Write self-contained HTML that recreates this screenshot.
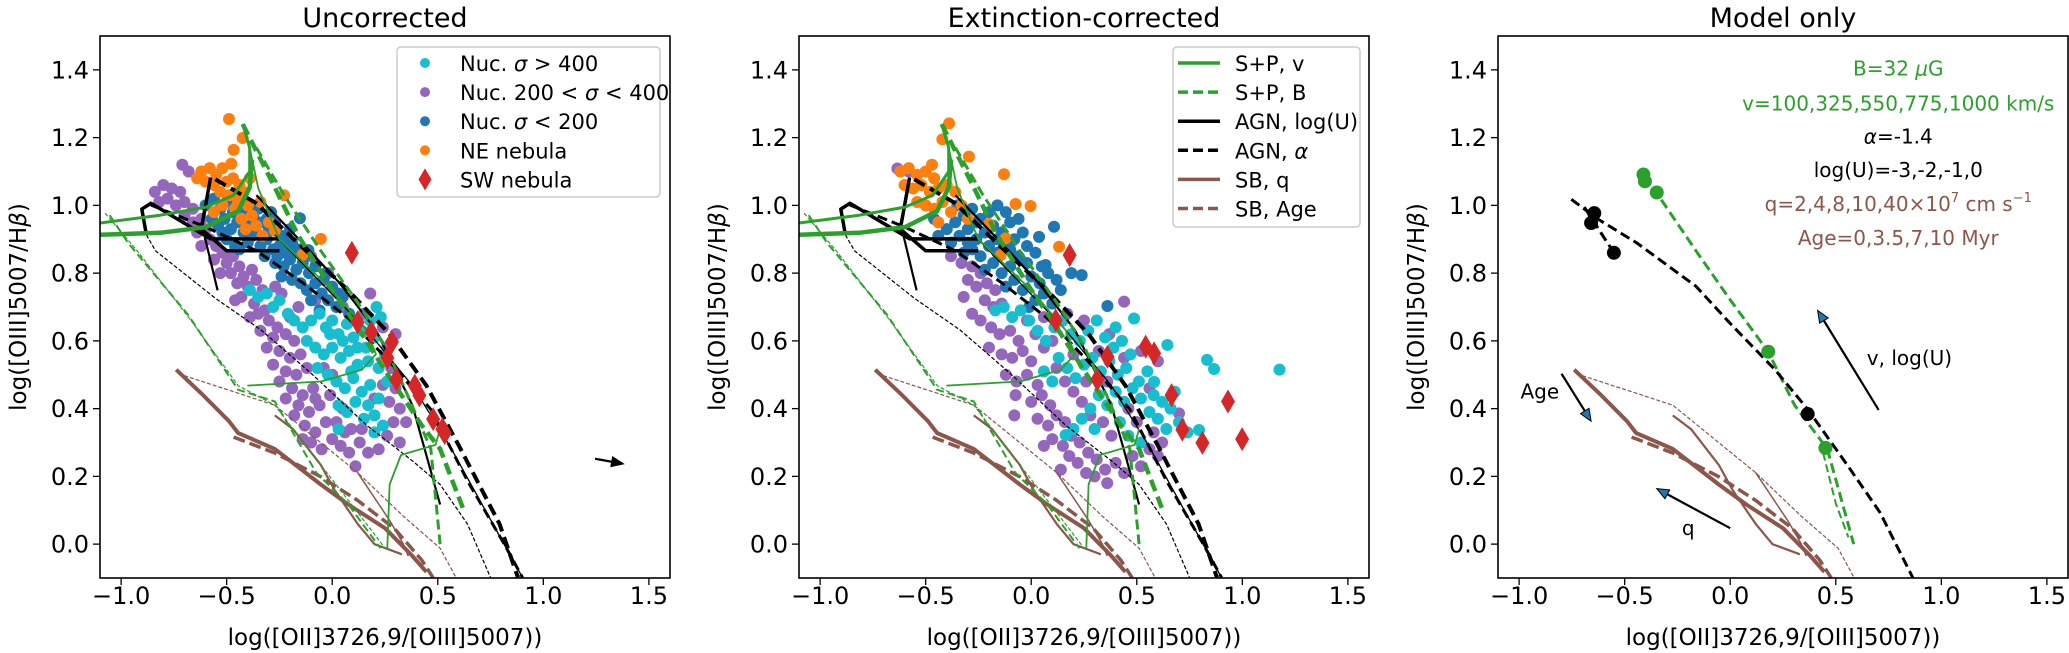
<!DOCTYPE html>
<html><head><meta charset="utf-8"><style>
html,body{margin:0;padding:0;background:#fff;}
svg{display:block;font-family:"DejaVu Sans","Liberation Sans",sans-serif;}
</style></head><body>
<svg id="fig" xmlns="http://www.w3.org/2000/svg" width="2069" height="653" viewBox="0 0 2069 653"></svg>
<script>
// ---- observational data (x = log([OII]/[OIII]), y = log([OIII]/Hb)) ----
const orange1=[[-0.489,1.255],[-0.467,1.164],[-0.424,1.199],[-0.478,1.123],[-0.62,1.10],[-0.58,1.11],[-0.55,1.09],[-0.52,1.11],[-0.60,1.07],[-0.56,1.06],[-0.50,1.07],[-0.47,1.08],[-0.44,1.06],[-0.53,1.04],[-0.49,1.03],[-0.45,1.02],[-0.42,1.04],[-0.40,1.00],[-0.46,0.99],[-0.52,1.00],[-0.43,0.96],[-0.38,0.97],[-0.36,0.94],[-0.41,0.93],[-0.34,1.01],[-0.30,0.95],[-0.272,0.925],[-0.228,1.030],[-0.141,0.854],[-0.054,0.901],[-0.64,1.08],[-0.56,0.98],[-0.33,0.91],[-0.39,1.08]];
const blue1=[[-0.60,1.00],[-0.56,1.02],[-0.53,0.99],[-0.50,1.01],[-0.47,0.98],[-0.44,1.00],[-0.41,0.99],[-0.38,0.98],[-0.35,0.99],[-0.57,0.96],[-0.54,0.94],[-0.51,0.96],[-0.48,0.93],[-0.45,0.95],[-0.42,0.92],[-0.39,0.94],[-0.36,0.92],[-0.33,0.95],[-0.30,0.93],[-0.27,0.95],[-0.24,0.91],[-0.50,0.90],[-0.46,0.88],[-0.40,0.89],[-0.34,0.88],[-0.31,0.90],[-0.28,0.87],[-0.25,0.88],[-0.22,0.86],[-0.19,0.89],[-0.16,0.87],[-0.153,0.962],[-0.20,0.93],[-0.113,0.868],[-0.27,0.83],[-0.23,0.82],[-0.20,0.84],[-0.17,0.81],[-0.14,0.83],[-0.11,0.80],[-0.08,0.82],[-0.19,0.78],[-0.15,0.77],[-0.12,0.75],[-0.08,0.77],[-0.05,0.74],[-0.02,0.72],[0.02,0.70],[0.05,0.73],[0.08,0.68],[-0.10,0.72],[-0.04,0.78],[-0.32,0.85],[-0.44,0.87],[-0.37,0.96],[-0.29,0.98],[0.0,0.76],[-0.06,0.69],[-0.52,0.92],[-0.24,0.79],[-0.43,0.97],[-0.31,0.96],[-0.21,0.90],[-0.13,0.85],[-0.18,0.86],[-0.03,0.80],[0.03,0.74],[-0.38,0.91],[-0.26,0.85]];
const cyan1=[[-0.39,0.75],[-0.35,0.73],[-0.31,0.74],[-0.28,0.70],[-0.25,0.72],[-0.21,0.68],[-0.18,0.66],[-0.14,0.64],[-0.10,0.66],[-0.06,0.68],[-0.03,0.64],[0.00,0.66],[0.03,0.62],[0.07,0.65],[0.10,0.61],[0.14,0.63],[0.18,0.66],[0.21,0.70],[0.23,0.67],[0.20,0.61],[0.16,0.58],[-0.12,0.60],[-0.08,0.58],[-0.04,0.56],[0.00,0.58],[0.04,0.55],[0.08,0.57],[0.12,0.53],[0.17,0.54],[0.22,0.52],[0.25,0.56],[-0.02,0.50],[0.02,0.48],[0.06,0.46],[0.10,0.49],[0.14,0.45],[0.18,0.47],[0.22,0.43],[0.03,0.41],[0.07,0.39],[0.11,0.42],[0.15,0.37],[0.20,0.38],[0.24,0.35],[0.03,0.34],[0.20,0.33],[0.26,0.48],[-0.07,0.52],[0.05,0.60],[0.12,0.58],[0.09,0.51],[0.17,0.41],[-0.01,0.62]];
const purple1=[[-0.71,1.12],[-0.68,1.10],[-0.84,1.04],[-0.80,1.06],[-0.76,1.05],[-0.72,1.04],[-0.78,1.02],[-0.74,1.00],[-0.70,1.01],[-0.66,0.99],[-0.82,1.01],[-0.70,0.97],[-0.66,0.95],[-0.62,0.96],[-0.64,0.92],[-0.60,0.93],[-0.58,0.90],[-0.55,0.88],[-0.52,0.86],[-0.56,0.84],[-0.50,0.83],[-0.47,0.85],[-0.44,0.82],[-0.48,0.80],[-0.42,0.79],[-0.38,0.81],[-0.45,0.77],[-0.40,0.76],[-0.36,0.78],[-0.33,0.75],[-0.43,0.73],[-0.37,0.71],[-0.32,0.69],[-0.27,0.76],[-0.24,0.74],[-0.30,0.66],[-0.26,0.64],[-0.34,0.63],[-0.28,0.61],[-0.22,0.62],[-0.18,0.60],[-0.31,0.58],[-0.25,0.57],[-0.20,0.55],[-0.15,0.56],[-0.28,0.53],[-0.22,0.51],[-0.17,0.50],[-0.12,0.52],[-0.25,0.48],[-0.19,0.46],[-0.14,0.44],[-0.09,0.46],[-0.22,0.43],[-0.16,0.41],[-0.11,0.39],[-0.06,0.41],[-0.13,0.35],[-0.08,0.33],[-0.03,0.36],[-0.10,0.30],[-0.05,0.28],[0.00,0.31],[0.04,0.29],[0.08,0.27],[0.13,0.30],[0.17,0.27],[0.22,0.28],[0.11,0.23],[0.26,0.32],[0.29,0.36],[0.27,0.42],[0.24,0.47],[0.28,0.52],[0.26,0.58],[0.30,0.62],[0.24,0.64],[0.15,0.68],[0.05,0.70],[0.18,0.74],[-0.02,0.80],[-0.10,0.85],[-0.08,0.43],[-0.01,0.44],[0.05,0.40],[-0.04,0.52],[0.02,0.36],[0.09,0.34],[0.20,0.43],[0.30,0.46],[0.35,0.36],[-0.62,0.88],[-0.53,0.80],[-0.46,0.72],[-0.39,0.67],[-0.35,0.68],[-0.20,0.67],[-0.16,0.70],[-0.08,0.72],[0.00,0.50],[-0.18,0.38],[-0.14,0.31],[0.06,0.33],[0.14,0.34],[0.32,0.40],[0.32,0.30]];
const red1=[[0.093,0.860],[0.120,0.655],[0.185,0.626],[0.283,0.597],[0.261,0.550],[0.304,0.486],[0.391,0.468],[0.413,0.439],[0.478,0.369],[0.522,0.339],[0.533,0.328]];

const orange2=[[-0.389,1.242],[-0.421,1.195],[-0.295,1.144],[-0.129,1.092],[-0.074,1.004],[-0.003,0.998],[0.132,0.878],[-0.200,0.945],[-0.121,0.903],[-0.145,0.853],[-0.62,1.10],[-0.58,1.11],[-0.54,1.09],[-0.50,1.10],[-0.46,1.08],[-0.60,1.06],[-0.56,1.05],[-0.52,1.06],[-0.48,1.04],[-0.44,1.05],[-0.40,1.06],[-0.36,1.04],[-0.50,1.00],[-0.46,0.99],[-0.42,1.01],[-0.38,0.98],[-0.33,1.00],[-0.30,0.96],[-0.44,0.95],[-0.54,1.01],[-0.47,1.12]];
const blue2=[[-0.44,0.91],[-0.40,0.93],[-0.36,0.95],[-0.32,0.97],[-0.28,0.99],[-0.24,0.96],[-0.20,0.98],[-0.16,1.00],[-0.12,0.98],[-0.38,0.89],[-0.34,0.91],[-0.30,0.93],[-0.26,0.90],[-0.22,0.92],[-0.18,0.94],[-0.14,0.92],[-0.10,0.95],[-0.06,0.96],[-0.32,0.86],[-0.28,0.87],[-0.24,0.85],[-0.20,0.88],[-0.16,0.86],[-0.12,0.88],[-0.08,0.90],[-0.04,0.92],[-0.22,0.81],[-0.18,0.83],[-0.14,0.80],[-0.10,0.82],[-0.06,0.85],[-0.02,0.83],[0.02,0.86],[-0.12,0.76],[-0.08,0.78],[-0.04,0.75],[0.00,0.79],[0.04,0.77],[0.08,0.80],[0.12,0.78],[0.02,0.72],[0.06,0.74],[0.10,0.71],[0.14,0.75],[0.108,0.937],[0.239,0.794],[0.361,0.703],[0.037,0.907],[0.068,0.824],[-0.46,0.96],[-0.35,1.00],[0.19,0.80],[-0.26,0.95],[-0.01,0.70],[-0.30,0.89],[-0.16,0.90],[-0.02,0.88],[0.05,0.82],[-0.10,0.87]];
const cyan2=[[-0.17,0.69],[-0.13,0.70],[-0.09,0.67],[-0.05,0.69],[-0.01,0.66],[0.03,0.63],[0.07,0.60],[0.11,0.64],[0.15,0.66],[0.19,0.62],[0.23,0.60],[0.27,0.63],[0.31,0.66],[0.35,0.61],[0.39,0.58],[0.43,0.60],[0.47,0.56],[0.487,0.666],[0.645,0.588],[0.582,0.479],[0.163,0.322],[0.795,0.337],[0.833,0.544],[0.866,0.517],[1.176,0.515],[0.13,0.55],[0.17,0.52],[0.21,0.49],[0.25,0.53],[0.29,0.55],[0.33,0.51],[0.37,0.54],[0.41,0.50],[0.45,0.52],[0.51,0.48],[0.55,0.51],[0.58,0.44],[0.62,0.42],[0.66,0.40],[0.60,0.37],[0.64,0.34],[0.56,0.39],[0.52,0.43],[0.48,0.46],[0.44,0.42],[0.40,0.45],[0.36,0.41],[0.32,0.44],[0.28,0.40],[0.24,0.37],[0.20,0.34],[0.30,0.34],[0.42,0.36],[0.10,0.48],[0.06,0.51],[0.70,0.36],[0.74,0.33],[0.52,0.30],[0.46,0.32],[0.54,0.58],[0.40,0.64],[0.68,0.45]];
const purple2=[[-0.634,1.109],[-0.58,1.10],[-0.38,0.85],[-0.33,0.83],[-0.28,0.82],[-0.24,0.80],[-0.30,0.78],[-0.26,0.76],[-0.21,0.77],[-0.17,0.75],[-0.22,0.72],[-0.18,0.70],[-0.14,0.71],[-0.28,0.68],[-0.24,0.66],[-0.19,0.64],[-0.15,0.62],[-0.10,0.63],[-0.06,0.60],[-0.20,0.58],[-0.14,0.56],[-0.09,0.55],[-0.04,0.57],[0.00,0.54],[-0.12,0.50],[-0.07,0.48],[-0.02,0.50],[0.03,0.47],[-0.074,0.44],[0.00,0.42],[0.05,0.44],[0.09,0.41],[0.03,0.37],[0.08,0.35],[0.12,0.38],[0.16,0.36],[0.10,0.31],[0.15,0.29],[0.19,0.32],[0.23,0.30],[0.18,0.26],[0.22,0.24],[0.27,0.27],[0.31,0.25],[0.26,0.21],[0.35,0.22],[0.40,0.24],[0.44,0.21],[0.48,0.26],[0.52,0.23],[0.56,0.28],[0.60,0.26],[0.44,0.716],[0.70,0.386],[0.62,0.30],[0.58,0.33],[0.50,0.36],[0.46,0.40],[0.38,0.32],[0.34,0.36],[0.28,0.38],[0.24,0.42],[0.20,0.45],[0.16,0.48],[0.12,0.52],[0.32,0.57],[0.37,0.62],[0.44,0.55],[0.52,0.57],[0.60,0.54],[0.56,0.46],[0.06,0.58],[0.10,0.60],[0.02,0.62],[-0.02,0.66],[0.06,0.67],[0.25,0.66],[0.17,0.68],[-0.32,0.73],[0.14,0.22],[0.36,0.18],[-0.08,0.38],[0.20,0.56],[0.26,0.48],[0.36,0.48],[0.06,0.29],[0.30,0.20]];
const red2=[[0.182,0.853],[0.116,0.661],[0.361,0.553],[0.313,0.486],[0.542,0.583],[0.582,0.563],[0.665,0.440],[0.716,0.338],[0.811,0.299],[0.932,0.421],[0.999,0.310]];

// ---- model grids ----
const spvA=[[-1.10,0.948],[-0.815,0.971],[-0.598,0.995],[-0.467,1.030],[-0.391,1.100],[-0.391,1.170],[-0.424,1.240]];
const spvB=[[-1.10,0.913],[-0.815,0.919],[-0.598,0.936],[-0.446,0.983],[-0.391,1.053],[-0.380,1.135]];
const spvC=[[-0.391,1.170],[-0.35,1.05],[-0.25,0.90],[0.00,0.75],[0.163,0.632],[0.207,0.561],[0.141,0.515],[-0.054,0.480],[-0.402,0.468]];
const spvD=[[0.511,0.339],[0.489,0.293],[0.326,0.263],[0.272,0.176],[0.261,-0.012]];
const spB1=[[-0.424,1.240],[-0.272,1.053],[-0.163,0.913],[-0.011,0.761],[0.141,0.620],[0.272,0.492],[0.424,0.351],[0.511,0.281],[0.576,0.176],[0.620,0.105]];
const spB2=[[-0.359,1.170],[-0.228,1.030],[-0.054,0.866],[0.120,0.714],[0.250,0.585],[0.337,0.468],[0.467,0.281],[0.511,0.0]];
const spB3=[[-1.076,0.977],[-0.924,0.866],[-0.663,0.655],[-0.446,0.468],[-0.272,0.410],[-0.054,0.234],[0.120,0.094],[0.250,-0.012]];
const spB4=[[-1.054,0.971],[-0.967,0.889],[-0.685,0.679],[-0.446,0.456],[-0.272,0.421],[-0.076,0.211],[0.076,0.117],[0.228,-0.012]];
const agnU1=[[-0.880,0.913],[-0.902,0.989],[-0.859,1.006],[-0.576,0.901],[-0.250,0.901]];
const agnU2=[[-0.576,1.082],[-0.62,0.93],[-0.50,0.866],[-0.250,0.866]];
const agnU3=[[-0.62,0.95],[-0.543,0.749]];
const agnU4=[[-0.359,1.030],[-0.141,0.889],[0.033,0.772],[0.207,0.632],[0.380,0.410],[0.511,0.117]];
const agnU5=[[-0.272,0.913],[-0.054,0.772],[0.163,0.632],[0.380,0.468],[0.554,0.293],[0.902,-0.099]];
const agnA1=[[-0.859,1.001],[-0.598,0.936],[-0.359,0.866],[-0.141,0.772],[0.076,0.667],[0.272,0.538],[0.467,0.398],[0.641,0.187],[0.815,0.0],[0.902,-0.099]];
const agnA2=[[-0.554,1.077],[-0.359,1.006],[-0.163,0.889],[0.076,0.749],[0.272,0.620],[0.446,0.468],[0.598,0.293],[0.793,0.059],[0.880,-0.099]];
const agnA3=[[-0.880,0.913],[-0.837,0.866],[-0.554,0.726],[-0.337,0.632],[-0.098,0.503],[0.163,0.351],[0.380,0.246],[0.511,0.176],[0.641,0.059],[0.750,-0.099]];
const sbq1=[[-0.739,0.515],[-0.620,0.445],[-0.489,0.363],[-0.446,0.328],[-0.272,0.281],[-0.054,0.176],[0.076,0.117],[0.250,0.047],[0.380,-0.035],[0.446,-0.082]];
const sbq2=[[-0.272,0.380],[-0.185,0.339],[-0.054,0.234],[0.011,0.160],[0.120,0.060],[0.20,0.0],[0.33,-0.03]];
const sbq3=[[0.120,0.211],[0.272,0.070],[0.337,0.0],[0.36,-0.035]];
const sbA1=[[-0.467,0.316],[-0.272,0.269],[-0.054,0.199],[0.120,0.129],[0.293,0.047],[0.424,-0.047],[0.478,-0.099]];
const sbA2=[[-0.728,0.503],[-0.272,0.410],[0.120,0.211],[0.337,0.082],[0.511,-0.012],[0.587,-0.099]];
// panel 3 model
const m3agn=[[-0.753,1.018],[-0.628,0.960],[-0.442,0.889],[-0.162,0.761],[-0.006,0.655],[0.212,0.515],[0.367,0.398],[0.554,0.234],[0.709,0.094],[0.865,-0.099]];
const m3agnB=[[-0.691,0.995],[-0.551,0.860]];
const m3agnDots=[[-0.644,0.977],[-0.659,0.948],[-0.551,0.860],[0.367,0.384]];
const m3sp=[[-0.411,1.088],[-0.348,1.036],[-0.162,0.866],[-0.006,0.726],[0.180,0.568],[0.305,0.410],[0.460,0.281],[0.585,0.0]];
const m3sp2=[[0.44,0.27],[0.50,0.12],[0.56,0.02]];
const m3spDots=[[-0.411,1.091],[-0.404,1.071],[-0.348,1.038],[0.180,0.568],[0.451,0.284]];
const arrow1=[[1.245,0.252],[1.38,0.237]];
const arrowAge=[[-0.799,0.503],[-0.659,0.363]];
const arrowV=[[0.703,0.396],[0.414,0.690]];
const arrowQ=[[0.0,0.047],[-0.348,0.164]];
const xTicks=[-1.0,-0.5,0.0,0.5,1.0,1.5];
const yTicks=[0.0,0.2,0.4,0.6,0.8,1.0,1.2,1.4];
const titles=["Uncorrected","Extinction-corrected","Model only"];

// ---- layout ----
const NS="http://www.w3.org/2000/svg";
const svg=document.getElementById('fig');
const LS=[100,799,1498], PW=570, PH=542, TOP=36;
const X0=-1.1,X1=1.6,Y0=-0.1,Y1=1.5;
function sx(p,x){return LS[p]+(x-X0)/(X1-X0)*PW;}
function sy(y){return TOP+(Y1-y)/(Y1-Y0)*PH;}
function mk(tag,attrs,parent){const e=document.createElementNS(NS,tag);for(const k in attrs)e.setAttribute(k,attrs[k]);(parent||svg).appendChild(e);return e;}
const C={cyan:'#17becf',purple:'#9467bd',blue:'#1f77b4',orange:'#ff7f0e',red:'#d62728',green:'#2ca02c',brown:'#8c564b'};

const defs=mk('defs',{});
for(let p=0;p<3;p++){const cp=mk('clipPath',{id:'clip'+p},defs);mk('rect',{x:LS[p],y:TOP,width:PW,height:PH},cp);}

function dots(p,g,arr,color,r,name){
  for(const d of arr){
    const c=mk('circle',{cx:sx(p,d[0]),cy:sy(d[1]),r:r,fill:color},g);
    
    
  }
}
function diamonds(p,g,arr,name){
  for(const d of arr){
    const x=sx(p,d[0]),y=sy(d[1]);
    const e=mk('polygon',{points:`${x},${y-12} ${x+7},${y} ${x},${y+12} ${x-7},${y}`,fill:C.red},g);
    
    
  }
}
function line(p,g,arr,color,w,dash,name){
  const pts=arr.map(d=>sx(p,d[0]).toFixed(1)+','+sy(d[1]).toFixed(1)).join(' ');
  const attrs={points:pts,fill:'none',stroke:color,'stroke-width':w,'stroke-linejoin':'round'};
  if(dash)attrs['stroke-dasharray']=dash;
  const e=mk('polyline',attrs,g);
  
  
}
function arrow(p,g,arr,head,name){
  const x1=sx(p,arr[0][0]),y1=sy(arr[0][1]),x2=sx(p,arr[1][0]),y2=sy(arr[1][1]);
  const a=Math.atan2(y2-y1,x2-x1),L=12,W=5;
  const bx=x2-L*Math.cos(a),by=y2-L*Math.sin(a);
  const ln=mk('line',{x1:x1,y1:y1,x2:bx,y2:by,stroke:'#000','stroke-width':2.2},g);
  
  
  const pts=`${x2},${y2} ${bx-W*Math.sin(a)},${by+W*Math.cos(a)} ${bx+W*Math.sin(a)},${by-W*Math.cos(a)}`;
  const hd=mk('polygon',{points:pts,fill:head,stroke:'#000','stroke-width':1},g);
  
  
}
function sharedModels(p,g){
  line(p,g,spB3,C.green,1.2,'4 2','sp-b-thin-line');
  line(p,g,spB4,C.green,2,'8 4','sp-b-mid-line');
  line(p,g,agnA3,'#000',1.2,'4 2','agn-alpha-thin-line');
  line(p,g,agnU5,'#000',1.3,null,'agn-logu-thin-line');
  line(p,g,agnU4,'#000',2.2,null,'agn-logu-mid-line');
  line(p,g,agnU3,'#000',2.2,null,'agn-logu-branch-line');
  line(p,g,agnU1,'#000',3.5,null,'agn-logu-thick-line');
  line(p,g,agnU2,'#000',3.5,null,'agn-logu-thick-line-2');
  line(p,g,agnA1,'#000',3,'10 5','agn-alpha-line');
  line(p,g,agnA2,'#000',4,'12 6','agn-alpha-thick-line');
  line(p,g,spvC,C.green,1.8,null,'sp-v-thin-line');
  line(p,g,spvD,C.green,1.8,null,'sp-v-thin-line-2');
  line(p,g,spB2,C.green,3,'10 5','sp-b-line');
  line(p,g,spB1,C.green,4.5,'12 6','sp-b-thick-line');
  line(p,g,spvB,C.green,4.5,null,'sp-v-thick-line');
  line(p,g,spvA,C.green,3,null,'sp-v-line');
}
function brownModels(p,g){
  line(p,g,sbA2,C.brown,1.2,'4 2','sb-age-thin-line');
  line(p,g,sbq3,C.brown,1.5,null,'sb-q-thin-line-2');
  line(p,g,sbq2,C.brown,2.2,null,'sb-q-mid-line');
  line(p,g,sbA1,C.brown,3.5,'12 5','sb-age-thick-line');
  line(p,g,sbq1,C.brown,4,null,'sb-q-thick-line');
}

function axes(p){
  const g=mk('g',{});
  
  
  const t=mk('text',{x:LS[p]+PW/2,y:27,'text-anchor':'middle','font-size':27},g);
  t.textContent=titles[p];
  
  
  for(const v of xTicks){
    const x=sx(p,v);
    const tk=mk('line',{x1:x,y1:TOP+PH,x2:x,y2:TOP+PH+7,stroke:'#000','stroke-width':1.3},g);
    
    
    const tl=mk('text',{x:x,y:604,'text-anchor':'middle','font-size':24},g);
    tl.textContent=(v<0?'\u2212':'')+Math.abs(v).toFixed(1);
    
    
  }
  for(const v of yTicks){
    const y=sy(v);
    const tk=mk('line',{x1:LS[p]-7,y1:y,x2:LS[p],y2:y,stroke:'#000','stroke-width':1.3},g);
    
    
    const tl=mk('text',{x:LS[p]-11,y:y+8.5,'text-anchor':'end','font-size':24},g);
    tl.textContent=v.toFixed(1);
    
    
  }
  const xl=mk('text',{x:LS[p]+PW/2,y:645,'text-anchor':'middle','font-size':23},g);
  xl.textContent='log([OII]3726,9/[OIII]5007))';
  
  
  const yl=mk('text',{x:0,y:0,'text-anchor':'middle','font-size':23,transform:`translate(${LS[p]-74},${TOP+PH/2}) rotate(-90)`},g);
  yl.innerHTML='log([OIII]5007/H<tspan font-style="italic">β</tspan>)';
  
  
  const plot=mk('g',{'clip-path':`url(#clip${p})`},g);
  
  
  return {g,plot};
}
function frame(p,g){
  const f=mk('rect',{x:LS[p],y:TOP,width:PW,height:PH,fill:'none',stroke:'#000','stroke-width':1.6},g);
  
  
}

// Panel 1
{const {g,plot}=axes(0);
 dots(0,plot,purple1,C.purple,6,'nuc-200-400-point');
 dots(0,plot,blue1,C.blue,6,'nuc-lt-200-point');
 dots(0,plot,cyan1,C.cyan,6,'nuc-gt-400-point');
 dots(0,plot,orange1,C.orange,6,'ne-nebula-point');
 brownModels(0,plot); sharedModels(0,plot);
 diamonds(0,plot,red1,'sw-nebula-point');
 arrow(0,plot,arrow1,'#000','extinction-arrow');
 frame(0,g);
 const lg=mk('g',{},g);
 
 
 const bx=mk('rect',{x:397,y:47,width:263,height:150,rx:4,fill:'#fff','fill-opacity':0.85,stroke:'#ccc','stroke-width':1.5},lg);
 
 
 const ents=[['Nuc. ',C.cyan,'σ',' > 400'],['Nuc. 200 < ',C.purple,'σ',' < 400'],['Nuc. ',C.blue,'σ',' < 200'],['NE nebula',C.orange,'',''],['SW nebula',C.red,'','']];
 ents.forEach((e,i)=>{
   const y=63+i*29.1;
   const eg=mk('g',{},lg);
   
   
   if(i<4){const c=mk('circle',{cx:425,cy:y,r:5,fill:e[1]},eg);
     
     }
   else{const d=mk('polygon',{points:`425,${y-11} 431.5,${y} 425,${y+11} 418.5,${y}`,fill:C.red},eg);
     
     }
   const t=mk('text',{x:460,y:y+8,'font-size':21},eg);
   t.innerHTML=e[0]+(e[2]?'<tspan font-style="italic">σ</tspan>'+e[3]:'');
   
   
 });
}
// Panel 2
{const {g,plot}=axes(1);
 dots(1,plot,purple2,C.purple,6,'nuc-200-400-point');
 dots(1,plot,blue2,C.blue,6,'nuc-lt-200-point');
 dots(1,plot,cyan2,C.cyan,6,'nuc-gt-400-point');
 dots(1,plot,orange2,C.orange,6,'ne-nebula-point');
 brownModels(1,plot); sharedModels(1,plot);
 diamonds(1,plot,red2,'sw-nebula-point');
 frame(1,g);
 const lg=mk('g',{},g);
 
 
 const bx=mk('rect',{x:1173,y:47,width:187,height:180,rx:4,fill:'#fff','fill-opacity':0.85,stroke:'#ccc','stroke-width':1.5},lg);
 
 
 const ents=[['S+P, v',C.green,null],['S+P, B',C.green,'10 5'],['AGN, log(U)','#000',null],['AGN, <tspan font-style="italic">α</tspan>','#000','10 5'],['SB, q',C.brown,null],['SB, Age',C.brown,'10 5']];
 ents.forEach((e,i)=>{
   const y=63+i*29.1;
   const eg=mk('g',{},lg);
   
   
   const a={x1:1178,y1:y,x2:1220,y2:y,stroke:e[1],'stroke-width':3.5};
   if(e[2])a['stroke-dasharray']=e[2];
   const l=mk('line',a,eg);
   
   
   const t=mk('text',{x:1235,y:y+8,'font-size':21},eg);
   t.innerHTML=e[0];
   
   
 });
}
// Panel 3
{const {g,plot}=axes(2);
 brownModels(2,plot);
 line(2,plot,m3sp,C.green,3,'10 5','sp-b-model-line');
 line(2,plot,m3sp2,C.green,2,'8 4','sp-b-model-line-2');
 line(2,plot,m3agn,'#000',3,'10 5','agn-alpha-model-line');
 line(2,plot,m3agnB,'#000',3,'10 5','agn-alpha-model-branch');
 dots(2,plot,m3spDots,C.green,7,'sp-model-point');
 dots(2,plot,m3agnDots,'#000',7,'agn-model-point');
 arrow(2,plot,arrowAge,'#1f77b4','age-arrow');
 arrow(2,plot,arrowV,'#1f77b4','v-logu-arrow');
 arrow(2,plot,arrowQ,'#1f77b4','q-arrow');
 frame(2,g);
 const ann=[[0.796,1.404,'B=32 <tspan font-style="italic">μ</tspan>G',C.green,'middle'],[0.796,1.301,'v=100,325,550,775,1000 km/s',C.green,'middle'],[0.796,1.203,'<tspan font-style="italic">α</tspan>=-1.4','#000','middle'],[0.796,1.104,'log(U)=-3,-2,-1,0','#000','middle'],[0.796,1.004,'q=2,4,8,10,40×10<tspan font-size="13" dy="-9">7</tspan><tspan dy="9"> cm s</tspan><tspan font-size="13" dy="-9">−1</tspan>',C.brown,'middle'],[0.796,0.903,'Age=0,3.5,7,10 Myr',C.brown,'middle'],[-0.902,0.450,'Age','#000','middle'],[0.849,0.55,'v, log(U)','#000','middle'],[-0.199,0.047,'q','#000','middle']];
 for(const a of ann){
   const t=mk('text',{x:sx(2,a[0]),y:sy(a[1])+7,'text-anchor':a[4],'font-size':20,fill:a[3]},g);
   t.innerHTML=a[2];
   
   
 }
}
</script>
</body></html>
